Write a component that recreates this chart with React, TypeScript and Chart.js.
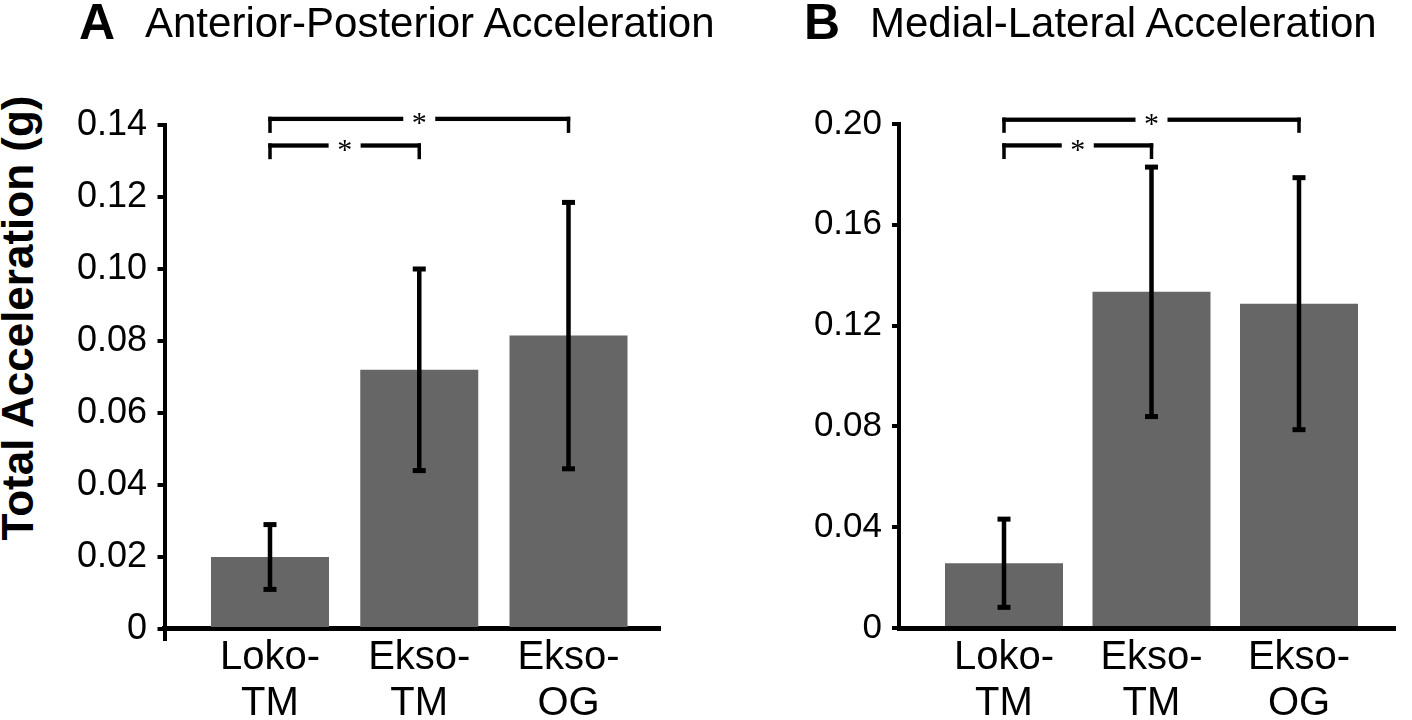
import React, { useEffect, useRef } from 'react';
import { Chart, registerables } from 'chart.js';

Chart.register(...registerables);

// ---------- data ----------
const categories = [['Loko-', 'TM'], ['Ekso-', 'TM'], ['Ekso-', 'OG']];

const apMeans = [0.02, 0.072, 0.0815];
const apErrors = [0.009, 0.028, 0.037];
const apTicks = [0, 0.02, 0.04, 0.06, 0.08, 0.1, 0.12, 0.14];

const mlMeans = [0.0257, 0.1334, 0.1287];
const mlErrors = [0.0175, 0.0495, 0.05];
const mlTicks = [0, 0.04, 0.08, 0.12, 0.16, 0.2];

// significance brackets (category indices, bracket level, leg end)
const apBracketFrom = [0, 0];
const apBracketTo = [2, 1];
const apBracketLevel = [0.1417, 0.1343];
const apBracketLegEnd = [0.1378, 0.1305];

const mlBracketFrom = [0, 0];
const mlBracketTo = [2, 1];
const mlBracketLevel = [0.2017, 0.1915];
const mlBracketLegEnd = [0.1965, 0.1861];

const bracketMark = '*';
const yTitle = 'Total Acceleration (g)';
const titleA = 'Anterior-Posterior Acceleration';
const titleB = 'Medial-Lateral Acceleration';

// ---------- layout ----------
const FONT = "'Liberation Sans', Arial, Helvetica, sans-serif";
const H = 720;

const panelA = {
  means: apMeans, errors: apErrors, ticks: apTicks,
  bracketFrom: apBracketFrom, bracketTo: apBracketTo,
  bracketLevel: apBracketLevel, bracketLegEnd: apBracketLegEnd,
  yMin: -0.00278, yMax: 0.14, zeroAxis: true,
  pageLeft: 50, pageWidth: 650,
  axisX: 164.5, plotRight: 660, plotTop: 125, plotBottom: 639, zeroY: 629,
  firstCenter: 270, spacing: 149.25,
  tickSize: 36, tickPad: 10.5,
};

const panelB = {
  means: mlMeans, errors: mlErrors, ticks: mlTicks,
  bracketFrom: mlBracketFrom, bracketTo: mlBracketTo,
  bracketLevel: mlBracketLevel, bracketLegEnd: mlBracketLegEnd,
  yMin: 0, yMax: 0.2, zeroAxis: false,
  pageLeft: 706, pageWidth: 706,
  axisX: 899, plotRight: 1395, plotTop: 124, plotBottom: 628, zeroY: 628,
  firstCenter: 1004, spacing: 147.5,
  tickSize: 35, tickPad: 10,
};

const CAT_SIZE = 40;
const CAT_LH = 1.15;
const CAT_FIRST_MID = 650;

function makeOverlayPlugin(p: any) {
  return {
    id: 'errorBarsAndBrackets',
    afterDatasetsDraw(chart: any) {
      const { ctx } = chart;
      const ys = chart.scales.y;
      const bars = chart.getDatasetMeta(0).data;
      ctx.save();
      ctx.fillStyle = '#000';
      const stemW = 4.5, capW = 13, capH = 5;
      p.means.forEach((m: number, i: number) => {
        const cx = bars[i].x;
        const yt = ys.getPixelForValue(m + p.errors[i]);
        const yb = ys.getPixelForValue(m - p.errors[i]);
        ctx.fillRect(cx - stemW / 2, yt, stemW, yb - yt);
        ctx.fillRect(cx - capW / 2, yt - capH / 2, capW, capH);
        ctx.fillRect(cx - capW / 2, yb - capH / 2, capW, capH);
      });
      const legW = 3.5, barH = 4.3, gap = 16;
      p.bracketFrom.forEach((from: number, j: number) => {
        const x1 = bars[from].x;
        const x2 = bars[p.bracketTo[j]].x;
        const yl = ys.getPixelForValue(p.bracketLevel[j]);
        const ye = ys.getPixelForValue(p.bracketLegEnd[j]);
        const mid = (x1 + x2) / 2;
        ctx.fillRect(x1 - legW / 2, yl - barH / 2, mid - gap - (x1 - legW / 2), barH);
        ctx.fillRect(mid + gap, yl - barH / 2, x2 + legW / 2 - (mid + gap), barH);
        ctx.fillRect(x1 - legW / 2, yl - barH / 2, legW, ye - yl + barH / 2);
        ctx.fillRect(x2 - legW / 2, yl - barH / 2, legW, ye - yl + barH / 2);
        ctx.font = "30px 'Liberation Serif', 'Times New Roman', serif";
        ctx.textAlign = 'center';
        ctx.textBaseline = 'alphabetic';
        const mt = ctx.measureText(bracketMark);
        const base = yl + (mt.actualBoundingBoxAscent - mt.actualBoundingBoxDescent) / 2;
        ctx.fillText(bracketMark, mid, base);
      });
      ctx.restore();
    },
  };
}

function Panel({ p }: { p: any }) {
  const ref = useRef<HTMLCanvasElement | null>(null);
  const W = p.pageWidth;
  useEffect(() => {
    const left = p.axisX - p.pageLeft;
    const right = p.plotRight - p.pageLeft;
    const xMin = 1 - (p.firstCenter - p.axisX) / p.spacing;
    const xMax = 1 + (p.plotRight - p.firstCenter) / p.spacing;
    const catLh = CAT_SIZE * CAT_LH;
    const catPad = CAT_FIRST_MID - p.zeroY - catLh / 2;
    const chart = new Chart(ref.current as HTMLCanvasElement, {
      type: 'bar',
      data: {
        datasets: [
          {
            data: p.means.map((m: number, i: number) => ({ x: i + 1, y: m })),
            backgroundColor: '#666666',
            borderWidth: 0,
            barPercentage: 118 / p.spacing,
            categoryPercentage: 1,
          },
        ],
      },
      plugins: [makeOverlayPlugin(p)],
      options: {
        responsive: false,
        animation: false,
        devicePixelRatio: 1,
        events: [],
        layout: {
          padding: { left: 0, right: W - right, top: p.plotTop, bottom: p.zeroAxis ? H - p.plotBottom : 0 },
        },
        plugins: { legend: { display: false }, tooltip: { enabled: false }, title: { display: false } },
        scales: {
          x: {
            type: 'linear',
            position: p.zeroAxis ? { y: 0 } : 'bottom',
            min: xMin,
            max: xMax,
            offset: false,
            afterBuildTicks: (s: any) => {
              s.ticks = categories.map((_c, i) => ({ value: i + 1 }));
            },
            afterFit: (s: any) => {
              s.height = H - p.plotBottom;
            },
            grid: { display: false, offset: false },
            border: { display: true, color: '#000', width: 5 },
            ticks: {
              autoSkip: false,
              maxRotation: 0,
              minRotation: 0,
              padding: catPad,
              color: '#000',
              font: { family: FONT, size: CAT_SIZE, lineHeight: CAT_LH },
              callback: (_v: any, i: number) => categories[i],
            },
          },
          y: {
            type: 'linear',
            min: p.yMin,
            max: p.yMax,
            afterBuildTicks: (s: any) => {
              s.ticks = p.ticks.map((v: number) => ({ value: v }));
            },
            afterFit: (s: any) => {
              s.width = left;
            },
            grid: { display: true, drawOnChartArea: false, drawTicks: true, tickLength: 7, lineWidth: 4, color: '#000' },
            border: { display: true, color: '#000', width: 4 },
            ticks: {
              padding: p.tickPad,
              color: '#000',
              font: { family: FONT, size: p.tickSize },
              callback: (v: any) => (Number(v) === 0 ? '0' : Number(v).toFixed(2)),
            },
          },
        },
      } as any,
    });
    return () => chart.destroy();
  }, []);
  return (
    <canvas
      ref={ref}
      width={W}
      height={H}
      style={{ position: 'absolute', left: p.pageLeft, top: 0, width: W, height: H, display: 'block' }}
    />
  );
}

function textStyle(left: number, top: number, size: number, weight: string): React.CSSProperties {
  return {
    position: 'absolute',
    left,
    top,
    fontFamily: FONT,
    fontSize: size,
    fontWeight: weight as any,
    lineHeight: `${size}px`,
    whiteSpace: 'nowrap',
    color: '#000',
  };
}

export default function App() {
  const yCx = 18;
  const yCy = 318;
  return (
    <div style={{ position: 'absolute', left: 0, top: 0, width: 1412, height: 720, overflow: 'hidden', background: '#fff' }}>
      <Panel p={panelA} />
      <Panel p={panelB} />
      <div style={textStyle(79, -3, 50, 'bold')}>A</div>
      <div style={textStyle(145, 2.4, 42, 'normal')}>{titleA}</div>
      <div style={textStyle(804, -3, 50, 'bold')}>B</div>
      <div style={textStyle(870, 2.4, 42, 'normal')}>{titleB}</div>
      <div
        style={{
          ...textStyle(yCx - 300, yCy - 22, 44, 'bold'),
          width: 600,
          textAlign: 'center',
          transform: 'rotate(-90deg)',
          transformOrigin: '50% 50%',
        }}
      >
        {yTitle}
      </div>
    </div>
  );
}
